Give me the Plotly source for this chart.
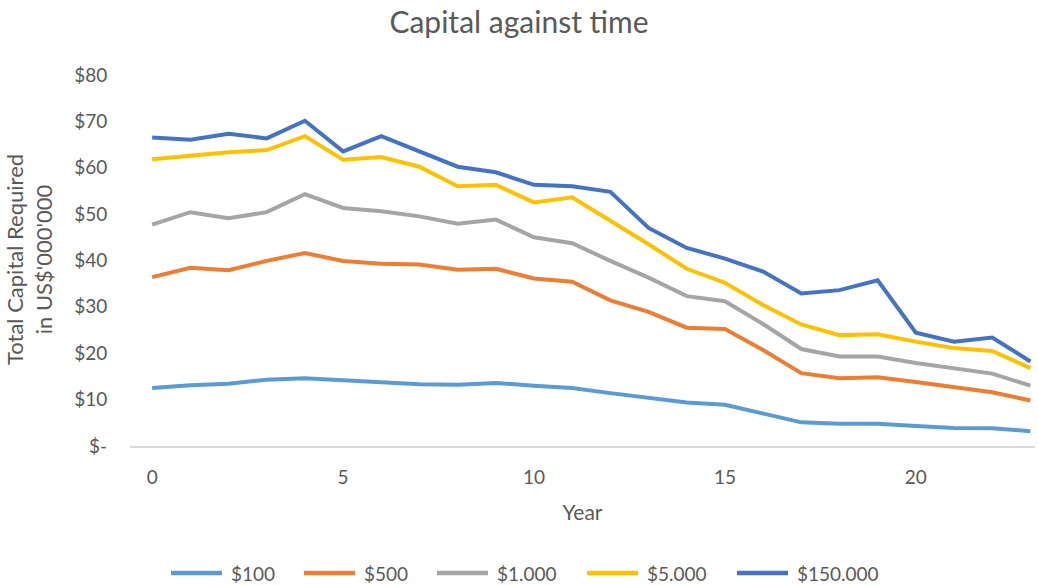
import plotly.graph_objects as go

years = list(range(0, 24))

s100 = [12.5, 13.1, 13.4, 14.3, 14.6, 14.1, 13.8, 13.3, 13.2, 13.6, 13.0, 12.5,
        11.4, 10.5, 9.4, 8.9, 7.1, 5.1, 4.8, 4.8, 4.3, 3.9, 3.8, 3.2]
s500 = [36.4, 38.4, 37.9, 39.9, 41.6, 39.9, 39.3, 39.1, 38.0, 38.2, 36.1, 35.4,
        31.4, 28.9, 25.5, 25.2, 20.7, 15.7, 14.6, 14.8, 13.8, 12.7, 11.6, 9.8]
s1000 = [47.7, 50.4, 49.1, 50.4, 54.3, 51.3, 50.6, 49.5, 47.9, 48.8, 45.0, 43.7,
         39.9, 36.3, 32.3, 31.2, 26.3, 20.9, 19.3, 19.3, 17.9, 16.8, 15.6, 13.0]
s5000 = [61.8, 62.6, 63.3, 63.8, 66.8, 61.7, 62.3, 60.2, 56.0, 56.3, 52.5, 53.6,
         48.6, 43.5, 38.2, 35.2, 30.4, 26.2, 23.9, 24.1, 22.5, 21.1, 20.5, 16.8]
s150000 = [66.5, 66.0, 67.3, 66.3, 70.1, 63.5, 66.8, 63.6, 60.2, 59.0, 56.3, 56.0,
           54.8, 47.0, 42.7, 40.4, 37.6, 32.9, 33.6, 35.7, 24.4, 22.5, 23.4, 18.2]

series_names = ["$100", "$500", "$1.000", "$5.000", "$150.000"]
series_values = [s100, s500, s1000, s5000, s150000]
colors = ["#5B9BD5", "#ED7D31", "#A5A5A5", "#FFC000", "#4472C4"]

y_tickvals = [0, 10, 20, 30, 40, 50, 60, 70, 80]
y_ticktext = ["$-", "$10", "$20", "$30", "$40", "$50", "$60", "$70", "$80"]
x_tickvals = [0, 5, 10, 15, 20]

# ---- layout geometry (pixels) ----
W, H = 1038, 585
ML, MR, MT, MB = 130, 3, 73, 139
PW, PH = W - ML - MR, H - MT - MB
legend_key_left_px = [171, 304, 437, 587, 737]   # legend key start positions
legend_key_len_px = 51
legend_text_gap_px = 8
legend_center_y_px = 573

def px_to_paper_x(px):
    return (px - ML) / PW

def px_to_paper_y(py):
    return (H - MB - py) / PH

font_family = "Lato, 'Open Sans', sans-serif"
gray = "#595959"

fig = go.Figure()
for name, vals, col in zip(series_names, series_values, colors):
    fig.add_trace(go.Scatter(x=years, y=vals, name=name, mode="lines",
                             line=dict(color=col, width=4), showlegend=False))

# legend drawn as keys + labels (Excel style, long keys)
ly = px_to_paper_y(legend_center_y_px)
for name, col, lx in zip(series_names, colors, legend_key_left_px):
    fig.add_shape(type="line", xref="paper", yref="paper",
                  x0=px_to_paper_x(lx), x1=px_to_paper_x(lx + legend_key_len_px),
                  y0=ly, y1=ly, line=dict(color=col, width=4.5))
    fig.add_annotation(xref="paper", yref="paper",
                       x=px_to_paper_x(lx + legend_key_len_px + legend_text_gap_px),
                       y=ly, text=name, showarrow=False, xanchor="left",
                       yanchor="middle", font=dict(size=19, color=gray),
                       borderpad=0)

fig.update_layout(
    width=W, height=H,
    paper_bgcolor="white", plot_bgcolor="white",
    margin=dict(l=ML, r=MR, t=MT, b=MB),
    font=dict(family=font_family, color=gray, size=19),
    title=dict(text="Capital against time", x=0.5, xanchor="center",
               y=0.961, yanchor="middle",
               font=dict(size=30, color=gray, family=font_family)),
    showlegend=False,
    xaxis=dict(range=[-0.58, 23.12], tickvals=x_tickvals, showgrid=False,
               zeroline=False, showline=True, linecolor="#D9D9D9", linewidth=1.5,
               ticks="outside", ticklen=13, tickcolor="rgba(0,0,0,0)",
               tickfont=dict(size=19, color=gray),
               title=dict(text="Year", font=dict(size=21, color=gray), standoff=19)),
    yaxis=dict(range=[0, 80.4], tickvals=y_tickvals, ticktext=y_ticktext,
               showgrid=False, zeroline=False, showline=False,
               ticks="outside", ticklen=18, tickcolor="rgba(0,0,0,0)",
               tickfont=dict(size=19, color=gray),
               title=dict(text="Total Capital Required<br>in US$'000'000",
                          font=dict(size=22, color=gray), standoff=15)),
)

fig.write_html("out.html",
               config={"displayModeBar": False},
               post_script="document.body.style.margin='0';document.body.style.padding='0';")
